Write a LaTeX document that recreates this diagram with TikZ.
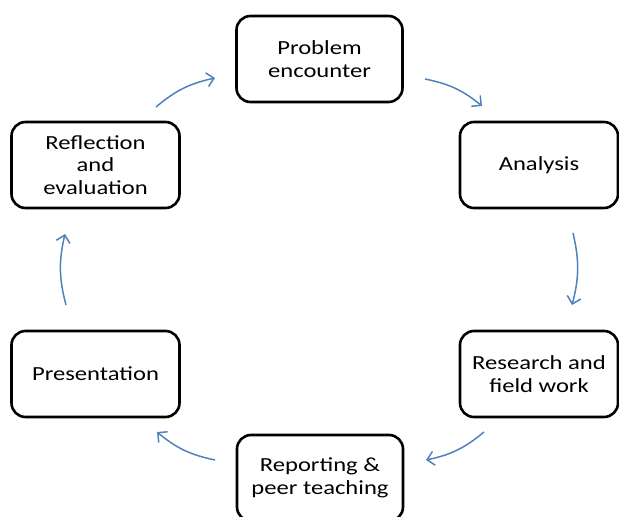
\documentclass[tikz,border=0pt]{standalone}
\usepackage{fontspec}
\setmainfont[FakeStretch=1.23]{Carlito}
\usepackage{tikz}
\usetikzlibrary{arrows.meta}
\definecolor{cyc}{RGB}{79,129,189}

\begin{document}
\begin{tikzpicture}[x=1pt,y=-1pt,
  every node/.style={font=\fontsize{20}{22.5}\selectfont},
  box/.style={draw, line width=2.6pt, rounded corners=14pt, align=center,
              minimum width=166pt, minimum height=86pt, inner sep=0pt},
  ar/.style={draw=cyc, line width=1.5pt, bend left=14,
             -{Straight Barb[length=7pt,width=14pt]}}]
  \useasboundingbox (0,0) rectangle (619,517);
  \node[box] (pe) at (319.5,59) {Problem\\encounter};
  \node[box, minimum width=158pt] (an) at (539,165) {Analysis};
  \node[box, minimum width=158pt] (rf) at (539,374) {Research and\\field work};
  \node[box] (rp) at (320,478) {Reporting \&\\peer teaching};
  \node[box, minimum width=168pt] (pr) at (95.5,374) {Presentation};
  \node[box, minimum width=168pt] (re) at (95.5,165) {Reflection\\and\\evaluation};
  % arrow ends, clockwise
  \coordinate (a1) at (156,107);  \coordinate (b1) at (215,78);
  \coordinate (a2) at (425,79);   \coordinate (b2) at (482,106);
  \coordinate (a3) at (573,233);  \coordinate (b3) at (572,305);
  \coordinate (a4) at (484,432);  \coordinate (b4) at (426,460);
  \coordinate (a5) at (215,460);  \coordinate (b5) at (157,432);
  \coordinate (a6) at (66,305);   \coordinate (b6) at (65,234);
  \draw[ar] (a1) to (b1);  \draw[ar] (a2) to (b2);  \draw[ar] (a3) to (b3);
  \draw[ar] (a4) to (b4);  \draw[ar] (a5) to (b5);  \draw[ar] (a6) to (b6);
\end{tikzpicture}
\end{document}
